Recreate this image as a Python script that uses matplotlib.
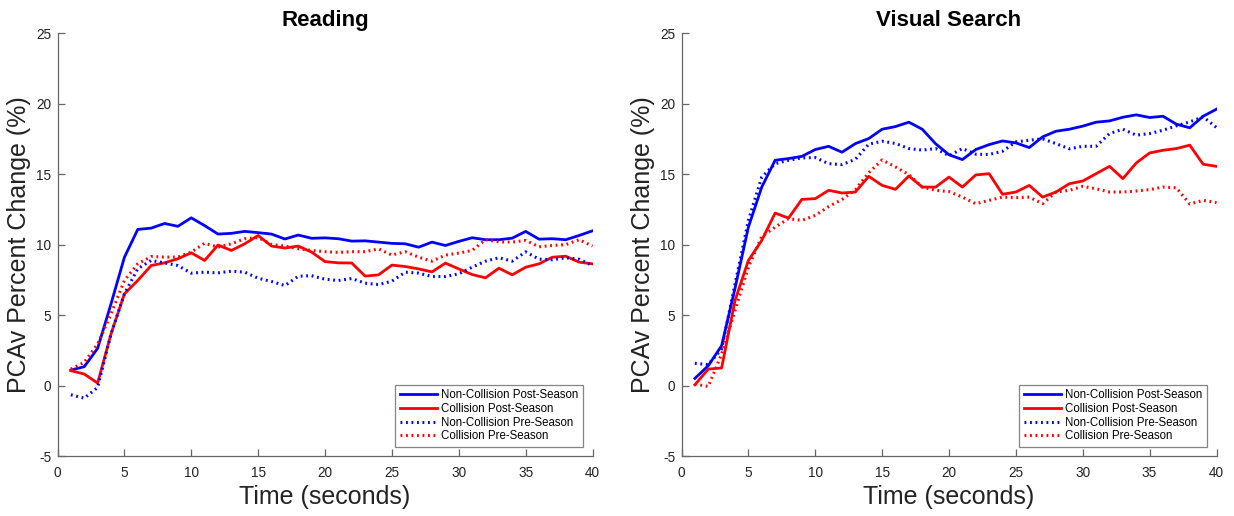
import matplotlib
matplotlib.use("Agg")
import matplotlib.pyplot as plt
import numpy as np

plt.rcParams['font.family'] = ['Liberation Sans', 'DejaVu Sans']
plt.rcParams['axes.unicode_minus'] = False

time = list(range(1, 41))

# Reading
read_nc_post = [1.11, 1.35, 2.65, 5.8, 9.1, 11.08, 11.17, 11.5, 11.3, 11.9,
                11.35, 10.75, 10.8, 10.94, 10.85, 10.75, 10.4, 10.68, 10.45, 10.48,
                10.42, 10.25, 10.27, 10.18, 10.09, 10.06, 9.82, 10.18, 9.94, 10.23,
                10.49, 10.35, 10.35, 10.46, 10.94, 10.39, 10.42, 10.35, 10.65, 10.98]
read_c_post = [1.07, 0.83, 0.19, 3.67, 6.51, 7.46, 8.52, 8.71, 9.0, 9.42,
               8.88, 9.97, 9.59, 10.06, 10.65, 9.9, 9.76, 9.9, 9.47, 8.8,
               8.71, 8.7, 7.77, 7.86, 8.55, 8.45, 8.28, 8.07, 8.69, 8.28,
               7.88, 7.65, 8.33, 7.86, 8.4, 8.64, 9.11, 9.18, 8.76, 8.64]
read_nc_pre = [-0.64, -0.88, -0.12, 3.67, 6.51, 8.29, 8.88, 8.71, 8.52, 7.98,
               8.05, 8.0, 8.12, 8.05, 7.62, 7.39, 7.1, 7.76, 7.8, 7.55,
               7.46, 7.6, 7.27, 7.17, 7.41, 8.05, 7.98, 7.74, 7.74, 7.93,
               8.4, 8.83, 9.07, 8.83, 9.49, 8.97, 8.93, 9.07, 8.97, 8.52]
read_c_pre = [1.18, 1.66, 2.96, 5.09, 7.46, 8.64, 9.16, 9.12, 9.12, 9.47,
              10.1, 9.82, 10.06, 10.42, 10.5, 10.01, 9.9, 9.71, 9.59, 9.5,
              9.45, 9.5, 9.5, 9.7, 9.26, 9.5, 9.11, 8.83, 9.26, 9.4,
              9.59, 10.35, 10.2, 10.18, 10.3, 9.85, 9.94, 10.0, 10.35, 9.9]

# Visual Search
vs_nc_post = [0.52, 1.42, 2.84, 6.9, 11.24, 14.08, 15.98, 16.1, 16.26, 16.74,
              16.97, 16.55, 17.16, 17.52, 18.18, 18.37, 18.68, 18.18, 17.15, 16.37,
              16.03, 16.74, 17.09, 17.35, 17.21, 16.88, 17.64, 18.04, 18.18, 18.4,
              18.68, 18.77, 19.03, 19.2, 19.01, 19.1, 18.54, 18.28, 19.1, 19.6]
vs_c_post = [0.07, 1.18, 1.26, 6.04, 8.88, 10.3, 12.24, 11.88, 13.21, 13.26,
             13.85, 13.66, 13.73, 14.84, 14.2, 13.92, 14.87, 14.08, 14.08, 14.79,
             14.08, 14.94, 15.03, 13.57, 13.73, 14.2, 13.37, 13.73, 14.32, 14.51,
             15.03, 15.55, 14.68, 15.79, 16.5, 16.69, 16.81, 17.05, 15.7, 15.55]
vs_nc_pre = [1.59, 1.5, 2.6, 7.2, 11.72, 14.79, 15.74, 15.98, 16.15, 16.17,
             15.74, 15.67, 16.05, 17.12, 17.33, 17.17, 16.81, 16.7, 16.81, 16.3,
             16.81, 16.41, 16.39, 16.62, 17.28, 17.4, 17.5, 17.16, 16.79, 16.97,
             16.97, 17.87, 18.18, 17.76, 17.87, 18.11, 18.42, 18.7, 19.06, 18.3]
vs_c_pre = [0.12, -0.05, 2.25, 5.33, 8.4, 10.58, 11.24, 11.84, 11.72, 12.07,
            12.7, 13.2, 13.9, 15.1, 16.0, 15.51, 14.96, 14.08, 13.85, 13.76,
            13.37, 12.9, 13.14, 13.37, 13.33, 13.37, 12.9, 13.73, 13.85, 14.13,
            13.96, 13.73, 13.73, 13.8, 13.9, 14.08, 14.03, 12.88, 13.14, 12.98]

labels = ['Non-Collision Post-Season', 'Collision Post-Season',
          'Non-Collision Pre-Season', 'Collision Pre-Season']
titles = ['Reading', 'Visual Search']
xticks = list(range(0, 41, 5))
yticks = list(range(-5, 26, 5))

W, H = 1234, 516
fig = plt.figure(figsize=(W / 100, H / 100), dpi=100)

axes_left_px = [57.5, 681.5]
top_px, bot_px = 33, 456.3
axw = 535
axh = bot_px - top_px

dot = (0, (0.6, 1.2))
spine_col = '#666666'
text_col = '#222222'

datasets = [
    (read_nc_post, read_c_post, read_nc_pre, read_c_pre),
    (vs_nc_post, vs_c_post, vs_nc_pre, vs_c_pre),
]

for i, left in enumerate(axes_left_px):
    ax = fig.add_axes([left / W, 1 - bot_px / H, axw / W, axh / H])
    ncpost, cpost, ncpre, cpre = datasets[i]
    ax.plot(time, ncpost, color='#0000ff', lw=2.0, label=labels[0])
    ax.plot(time, cpost, color='#ff0000', lw=2.0, label=labels[1])
    ax.plot(time, ncpre, color='#0000ff', lw=2.2, linestyle=dot, label=labels[2])
    ax.plot(time, cpre, color='#ff0000', lw=2.2, linestyle=dot, label=labels[3])
    ax.set_xlim(0, 40)
    ax.set_ylim(-5, 25)
    ax.set_xticks(xticks)
    ax.set_yticks(yticks)
    for s in ['top', 'right']:
        ax.spines[s].set_visible(False)
    for s in ['left', 'bottom']:
        ax.spines[s].set_color(spine_col)
        ax.spines[s].set_linewidth(0.9)
    ax.tick_params(direction='in', length=5, width=0.9, color=spine_col,
                   labelsize=9.8, labelcolor=text_col)
    ax.tick_params(axis='x', pad=7)
    ax.tick_params(axis='y', pad=4.5)
    ax.set_title(titles[i], fontsize=16, fontweight='bold', pad=0,
                 y=1 + (top_px - 26) / axh, va='baseline')
    ax.set_xlabel('Time (seconds)', fontsize=18, color=text_col)
    ax.xaxis.set_label_coords(0.5, (bot_px - 485.5) / axh)
    ax.set_ylabel('PCAv Percent Change (%)', fontsize=18, color=text_col)
    ax.yaxis.set_label_coords((31 - 57.5) / axw, 0.5)
    leg = ax.legend(loc='lower right', fontsize=8.3, frameon=True, fancybox=False,
                    handlelength=3.2, handletextpad=0.4, borderpad=0.4,
                    labelspacing=0.15, borderaxespad=0.8)
    leg.get_frame().set_edgecolor(spine_col)
    leg.get_frame().set_linewidth(0.9)

fig.savefig('out.png', dpi=100)
